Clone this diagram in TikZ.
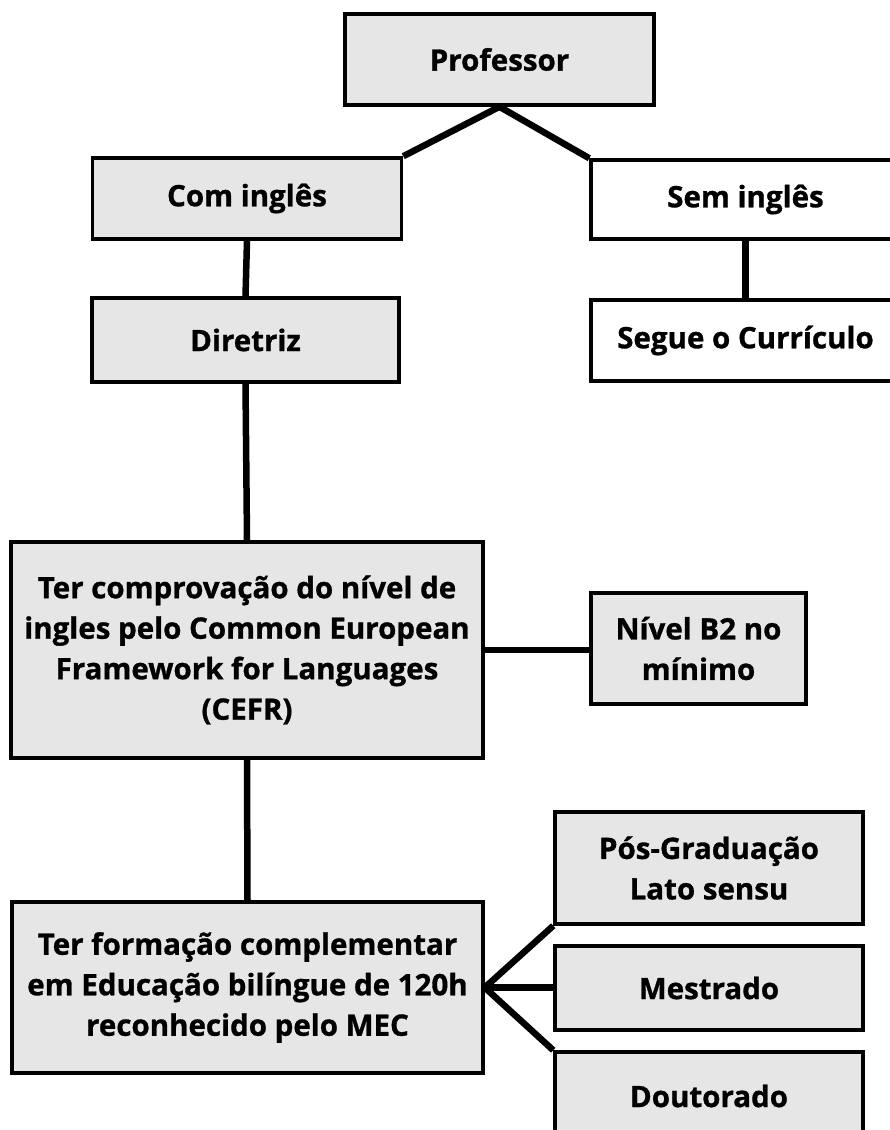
\documentclass[tikz,border=0pt]{standalone}
\usepackage{fontspec}
\setmainfont{Open Sans}[BoldFeatures={FakeBold=1}]
\usetikzlibrary{positioning, calc}
\definecolor{boxgray}{RGB}{230,230,230}

\begin{document}
\begin{tikzpicture}[x=1pt, y=-1pt,
    box/.style={draw, line width=3.5pt, fill=boxgray, inner sep=0pt, align=center,
                font=\fontsize{29.5}{40.5}\selectfont\bfseries},
    openbox/.style={box, fill=white},
    link/.style={line width=6.5pt}]
    \useasboundingbox (0,0) rectangle (890,1130);

    % Top level
    \node[box, minimum width=309pt, minimum height=91pt] (prof) at (499.5,59.5) {Professor};

    % Two branches
    \node[box, minimum width=309pt, minimum height=81pt] (com) at (247,198.5) {Com ingl\^es};
    \node[openbox, minimum width=309pt, minimum height=79pt] (sem) at (745.5,199.5) {Sem ingl\^es};
    \node[box, minimum width=307pt, minimum height=84pt] (dir) at (245.5,340) {Diretriz};
    \node[openbox, minimum width=309pt, minimum height=81pt] (seg) at (745.5,340.5) {Segue o Curr\'iculo};

    % Requirements
    \node[box, minimum width=472pt, minimum height=216pt] (cefr) at (247,650)
        {Ter comprova\c{c}\~ao do n\'ivel de\\ingles pelo Common European\\Framework for Languages\\(CEFR)};
    \node[box, minimum width=215pt, minimum height=111pt] (b2) at (698.5,648.5) {N\'ivel B2 no\\m\'inimo};
    \node[box, minimum width=471pt, minimum height=171pt] (form) at (247.5,987.5)
        {Ter forma\c{c}\~ao complementar\\em Educa\c{c}\~ao bil\'ingue de 120h\\reconhecido pelo MEC};

    % Degrees
    \node[box, minimum width=308pt, minimum height=112pt] (pos) at (709,868) {P\'os-Gradua\c{c}\~ao\\Lato sensu};
    \node[box, minimum width=308pt, minimum height=84pt] (mes) at (709,988) {Mestrado};
    \node[box, minimum width=308pt, minimum height=88pt] (dou) at (709,1096) {Doutorado};

    % Connectors
    \draw[link] (prof.south) -- (com.north east);
    \draw[link] (prof.south) -- (sem.north west);
    \draw[link] (com.south) -- (dir.north);
    \draw[link] (sem.south) -- (seg.north);
    \draw[link] (dir.south) -- (cefr.north);
    \draw[link] (cefr.east) -- (cefr.east -| b2.west);
    \draw[link] (cefr.south) -- (form.north);
    \draw[link] (form.east) -- (pos.south west);
    \draw[link] (form.east) -- (form.east -| mes.west);
    \draw[link] (form.east) -- (dou.north west);
\end{tikzpicture}
\end{document}
